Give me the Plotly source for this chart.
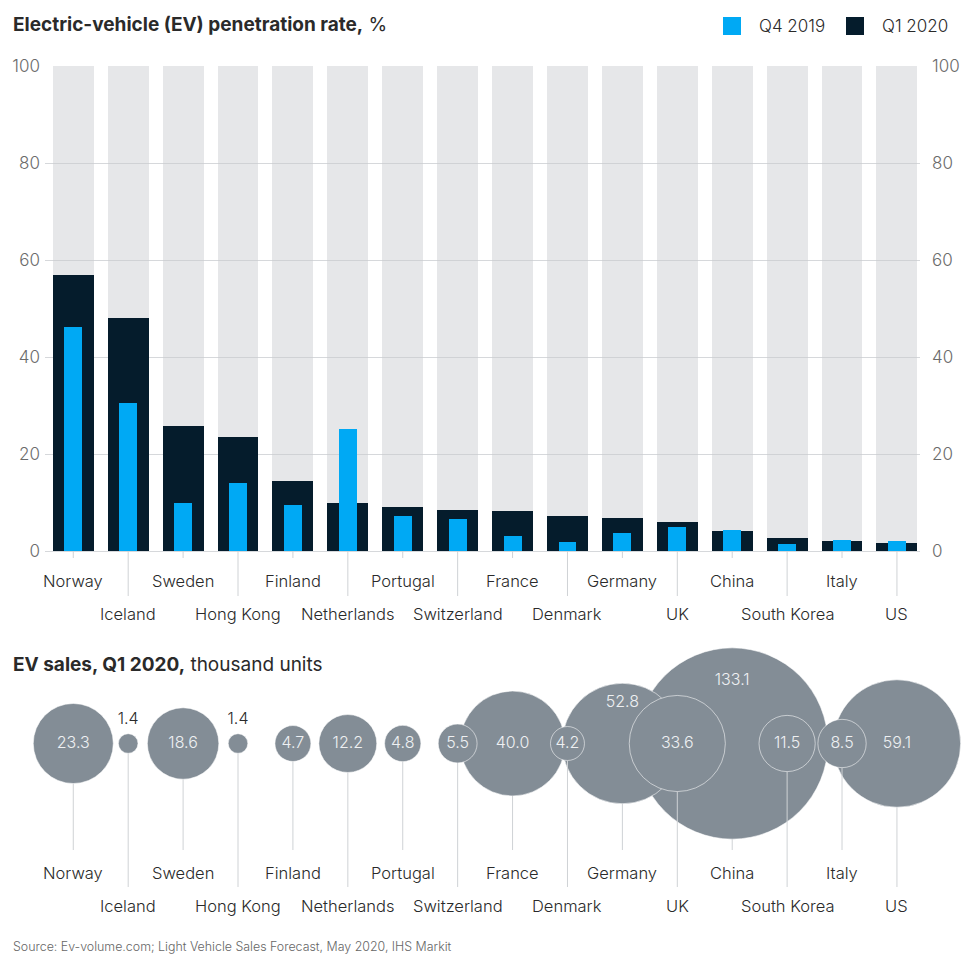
import plotly.graph_objects as go

# ---------------- data ----------------
COUNTRIES = ["Norway", "Iceland", "Sweden", "Hong Kong", "Finland", "Netherlands",
             "Portugal", "Switzerland", "France", "Denmark", "Germany", "UK",
             "China", "South Korea", "Italy", "US"]
PEN_Q4_2019 = [46.1, 30.5, 9.8, 14.0, 9.5, 25.2, 7.3, 6.5, 3.1, 1.9, 3.7, 4.9, 4.3, 1.5, 2.2, 2.1]
PEN_Q1_2020 = [56.9, 48.0, 25.8, 23.5, 14.4, 9.8, 9.1, 8.5, 8.2, 7.2, 6.8, 6.0, 4.2, 2.7, 2.1, 1.7]
SALES_Q1_2020 = [23.3, 1.4, 18.6, 1.4, 4.7, 12.2, 4.8, 5.5, 40.0, 4.2, 52.8, 33.6, 133.1, 11.5, 8.5, 59.1]
FULL_SCALE = 100
Y_TICKS = [0, 20, 40, 60, 80, 100]

# ---------------- style ----------------
W, H = 961, 954
FONT = "Inter"
LIGHT = 300
C_TRACK = "rgba(200,203,208,0.46)"
C_DARK = "#051c2c"
C_BLUE = "#00a9f4"
C_BUBBLE = "#838d96"
C_GRID = "#d6d8db"
C_TEXT = "#2a2a2a"
C_TICK = "#6b6b6b"
K = 8.29  # px radius per sqrt(thousand units)


def py(px):
    return 1 - px / H


n = len(COUNTRIES)
idx = list(range(n))

fig = go.Figure()

# background tracks
fig.add_trace(go.Bar(x=idx, y=[FULL_SCALE] * n, width=0.745, marker=dict(color=C_TRACK, line_width=0),
                     hoverinfo="skip", showlegend=False, xaxis="x", yaxis="y"))
fig.add_trace(go.Bar(x=idx, y=PEN_Q1_2020, width=0.745, marker=dict(color=C_DARK, line_width=0),
                     name="Q1 2020", showlegend=False, xaxis="x", yaxis="y"))
fig.add_trace(go.Bar(x=idx, y=PEN_Q4_2019, width=0.327, marker=dict(color=C_BLUE, line_width=0),
                     name="Q4 2019", showlegend=False, xaxis="x", yaxis="y"))
# right-hand axis mirror (invisible trace to activate it)
fig.add_trace(go.Scatter(x=[None], y=[None], xaxis="x", yaxis="y3", showlegend=False, hoverinfo="skip"))

# ---------------- bubbles ----------------
order = sorted(idx, key=lambda i: -SALES_Q1_2020[i])
fig.add_trace(go.Scatter(
    x=[i for i in order], y=[0] * n, mode="markers",
    marker=dict(size=[SALES_Q1_2020[i] for i in order], sizemode="area", sizeref=1 / (2 * K * K),
                color=C_BUBBLE, opacity=1, line=dict(color="rgba(255,255,255,0.55)", width=1)),
    xaxis="x2", yaxis="y2", showlegend=False, hoverinfo="skip", cliponaxis=False))

# stems below bubbles
STEM_END = {0: 106.5, 1: 143.5}
sx, sy = [], []
for i in idx:
    r = K * SALES_Q1_2020[i] ** 0.5
    sx += [i, i, None]
    sy += [r, STEM_END[i % 2], None]
fig.add_trace(go.Scatter(x=sx, y=sy, mode="lines", line=dict(color="#cfd2d5", width=1),
                         xaxis="x2", yaxis="y2", showlegend=False, hoverinfo="skip"))

# bubble value labels
OUTSIDE = {"Iceland", "Hong Kong"}
LIFT = {"Germany": 0.67, "China": 0.65}
in_x, in_y, in_t, out_x, out_y, out_t = [], [], [], [], [], []
for i in idx:
    v = SALES_Q1_2020[i]
    r = K * v ** 0.5
    c = COUNTRIES[i]
    if c in OUTSIDE:
        out_x.append(i); out_y.append(-(r + 14)); out_t.append(f"{v:.1f}")
    else:
        in_x.append(i); in_y.append(-LIFT.get(c, 0) * r); in_t.append(f"{v:.1f}")
fig.add_trace(go.Scatter(x=in_x, y=in_y, text=in_t, mode="text",
                         textfont=dict(family=FONT, size=16, color="#eef0f2", weight=LIGHT),
                         xaxis="x2", yaxis="y2", showlegend=False, hoverinfo="skip", cliponaxis=False))
fig.add_trace(go.Scatter(x=out_x, y=out_y, text=out_t, mode="text",
                         textfont=dict(family=FONT, size=16, color=C_TEXT, weight=LIGHT),
                         xaxis="x2", yaxis="y2", showlegend=False, hoverinfo="skip", cliponaxis=False))

annotations = []
shapes = []

# category labels (two staggered rows) + tick lines
for i, c in enumerate(COUNTRIES):
    row = i % 2
    annotations.append(dict(x=i, xref="x", y=py(581 + 33 * row), yref="paper", text=c, showarrow=False,
                            xanchor="center", yanchor="middle",
                            font=dict(family=FONT, size=16.5, color=C_TEXT, weight=LIGHT)))
    shapes.append(dict(type="line", xref="x", yref="paper", x0=i, x1=i, y0=py(551), y1=py(558 if row == 0 else 596),
                       line=dict(color="#cfd2d5", width=1)))
    annotations.append(dict(x=i, xref="x2", y=129.5 + 33 * row, yref="y2", text=c, showarrow=False,
                            xanchor="center", yanchor="middle",
                            font=dict(family=FONT, size=16.5, color=C_TEXT, weight=LIGHT)))

# titles
annotations.append(dict(x=11 / W, y=py(25), xref="paper", yref="paper", xanchor="left", yanchor="middle",
                        showarrow=False, text="<b>Electric-vehicle (EV) penetration rate,</b> %",
                        font=dict(family=FONT, size=19, color=C_TEXT)))
annotations.append(dict(x=11 / W, y=py(664), xref="paper", yref="paper", xanchor="left", yanchor="middle",
                        showarrow=False, text="<b>EV sales, Q1 2020,</b> thousand units",
                        font=dict(family=FONT, size=19, color=C_TEXT)))
annotations.append(dict(x=11 / W, y=py(946), xref="paper", yref="paper", xanchor="left", yanchor="middle",
                        showarrow=False, text="Source: Ev-volume.com; Light Vehicle Sales Forecast, May 2020, IHS Markit",
                        font=dict(family=FONT, size=12.4, color="#666666", weight=LIGHT)))

# legend (manual)
for (x0, label, col) in [(723, "Q4 2019", C_BLUE), (846, "Q1 2020", C_DARK)]:
    shapes.append(dict(type="rect", xref="paper", yref="paper", x0=x0 / W, x1=(x0 + 18) / W,
                       y0=py(35), y1=py(17), fillcolor=col, line_width=0))
    annotations.append(dict(x=(x0 + 34) / W, y=py(26), xref="paper", yref="paper", xanchor="left",
                            yanchor="middle", showarrow=False, text=label,
                            font=dict(family=FONT, size=17, color=C_TEXT, weight=LIGHT)))

XR = [-0.515, 15.42]
XD = [45 / W, 920 / W]

fig.update_layout(
    width=W, height=H, margin=dict(l=0, r=0, t=0, b=0, pad=0, autoexpand=False),
    paper_bgcolor="white", plot_bgcolor="rgba(0,0,0,0)",
    barmode="overlay", bargap=0, showlegend=False,
    font=dict(family=FONT, color=C_TEXT),
    xaxis=dict(domain=XD, range=XR, showticklabels=False, showgrid=False, zeroline=False, ticks="",
               fixedrange=True, automargin=False),
    yaxis=dict(domain=[py(551), py(66)], range=[0, 100], tickvals=Y_TICKS, showgrid=True, gridcolor=C_GRID,
               gridwidth=1, zeroline=True, zerolinecolor=C_GRID, zerolinewidth=1, ticks="",
               tickfont=dict(family=FONT, size=17, color=C_TICK, weight=LIGHT), ticklabelstandoff=4,
               fixedrange=True, automargin=False),
    yaxis3=dict(overlaying="y", side="right", range=[0, 100], tickvals=Y_TICKS, showgrid=False, zeroline=False,
                ticks="", tickfont=dict(family=FONT, size=17, color=C_TICK, weight=LIGHT), ticklabelstandoff=11,
                anchor="x", fixedrange=True, automargin=False),
    xaxis2=dict(domain=XD, range=XR, visible=False, fixedrange=True, automargin=False),
    yaxis2=dict(domain=[py(940), py(640)], range=[196.5, -103.5], visible=False, fixedrange=True,
                automargin=False),
    annotations=annotations, shapes=shapes,
)

fig.write_html("out.html")
